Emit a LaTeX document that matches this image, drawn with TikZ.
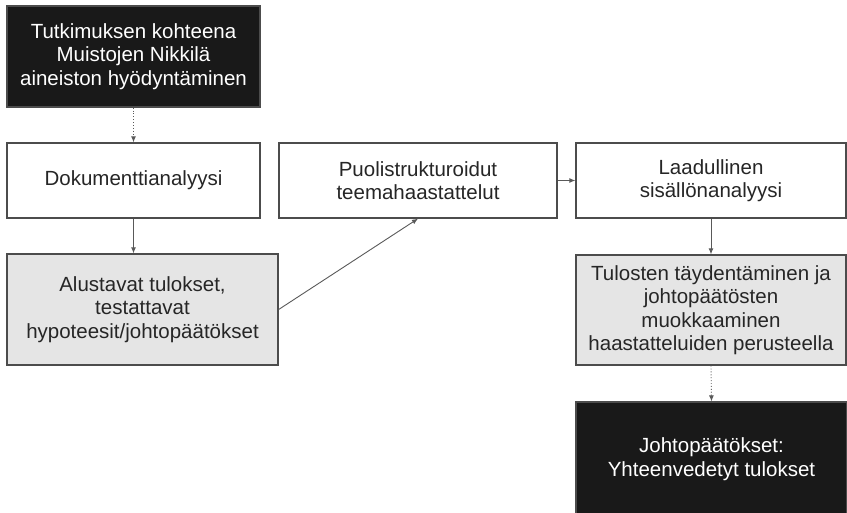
\documentclass[tikz,border=0pt]{standalone}
\usepackage{fontspec}
\setmainfont{Liberation Sans}
\usetikzlibrary{arrows.meta}

\begin{document}
\begin{tikzpicture}[x=1pt,y=-1pt,
  box/.style={draw=black!70,line width=1.3pt,align=center,inner sep=0pt,
    font=\fontsize{20.5}{23.5}\selectfont,text=black!85,fill=white},
  dark/.style={box,fill=black!90,text=white},
  grey/.style={box,fill=black!10},
  link/.style={-{Latex[length=6pt,width=5pt]},draw=black!65,line width=0.9pt}]
\useasboundingbox (0,0) rectangle (847,512);
\node[dark,minimum width=253pt,minimum height=101pt](aineisto) at (133.5,56.5)
  {Tutkimuksen kohteena\\Muistojen Nikkilä\\aineiston hyödyntäminen};
\node[box,minimum width=253pt,minimum height=75pt](dokumentti) at (133.5,180.5)
  {Dokumenttianalyysi};
\node[box,minimum width=278pt,minimum height=75pt](haastattelut) at (418,180.5)
  {Puolistrukturoidut\\teemahaastattelut};
\node[box,minimum width=270pt,minimum height=75pt](sisalto) at (711,180.5)
  {Laadullinen\\sisällönanalyysi};
\node[grey,minimum width=271pt,minimum height=111pt](alustavat) at (142.5,309.5)
  {Alustavat tulokset,\\testattavat\\hypoteesit/johtopäätökset};
\node[grey,minimum width=270pt,minimum height=110pt](taydennys) at (711,310)
  {Tulosten täydentäminen ja\\johtopäätösten\\muokkaaminen\\haastatteluiden perusteella};
\node[dark,minimum width=271pt,minimum height=114pt](johto) at (711.5,459)
  {Johtopäätökset:\\Yhteenvedetyt tulokset};

\draw[link,dotted] (aineisto.south) -- (dokumentti.north);
\draw[link] (dokumentti.south) -- (dokumentti.south |- alustavat.north);
\draw[link] (alustavat.east) -- (haastattelut.south);
\draw[link] (haastattelut.east) -- (sisalto.west);
\draw[link] (sisalto.south) -- (taydennys.north);
\draw[link,dotted] (taydennys.south) -- (johto.north);
\end{tikzpicture}
\end{document}
